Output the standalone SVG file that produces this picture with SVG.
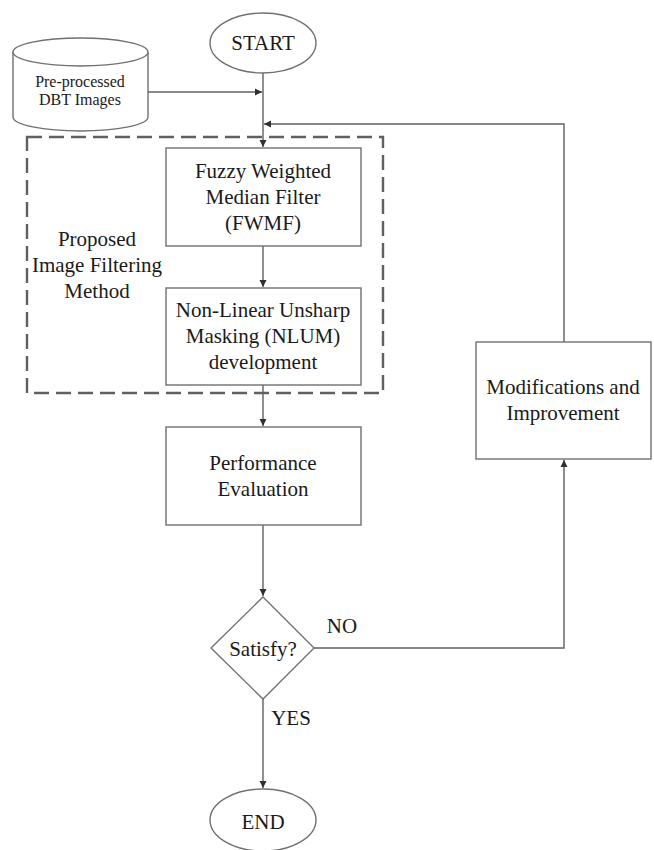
<svg xmlns="http://www.w3.org/2000/svg" width="654" height="850" viewBox="0 0 654 850" font-family="'Liberation Serif', 'Times New Roman', 'DejaVu Serif', serif">
<style>
text{font-family:'Liberation Serif','Times New Roman','DejaVu Serif',serif;fill:#1a1a1a;text-anchor:middle}
.t{font-size:21px}
.s{font-size:16px}
.box{fill:#fff;stroke:#707070;stroke-width:1.4}
.ln{fill:none;stroke:#606060;stroke-width:1.4}
.dash{fill:none;stroke:#606060;stroke-width:2.4;stroke-dasharray:15 7}
</style>
<defs>
<marker id="ah" markerWidth="8" markerHeight="8" refX="7" refY="4" orient="auto" markerUnits="userSpaceOnUse">
<path d="M0,0.5 L7,4 L0,7.5 Z" fill="#303030"/>
</marker>
</defs>
<rect width="654" height="850" fill="#fff"/>
<g id="connectors">
<path class="ln" d="M263,73 V147" marker-end="url(#ah)"/>
<path class="ln" d="M148,92 H262" marker-end="url(#ah)"/>
<path class="ln" d="M564,342 V124 H264" marker-end="url(#ah)"/>
<path class="ln" d="M263,246 V287" marker-end="url(#ah)"/>
<path class="ln" d="M263,385 V426" marker-end="url(#ah)"/>
<path class="ln" d="M263,525 V596" marker-end="url(#ah)"/>
<path class="ln" d="M314,648 H564 V460" marker-end="url(#ah)"/>
<path class="ln" d="M263,699 V788" marker-end="url(#ah)"/>
<text class="t" x="342" y="633">NO</text>
<text class="t" x="291" y="725">YES</text>
</g>
<g id="group-proposed">
<rect class="dash" x="27" y="137" width="356" height="256"/>
<text class="t" x="97" y="246">Proposed</text>
<text class="t" x="97" y="272">Image Filtering</text>
<text class="t" x="97" y="298">Method</text>
</g>
<g id="start">
<ellipse class="box" cx="263" cy="43" rx="53" ry="30"/>
<text class="t" x="263" y="50">START</text>
</g>
<g id="dbt">
<path class="box" d="M13,52 V117 A67.5,14 0 0 0 148,117 V52"/>
<ellipse class="box" cx="80.5" cy="52" rx="67.5" ry="14"/>
<text class="s" x="80" y="87">Pre-processed</text>
<text class="s" x="80" y="105">DBT Images</text>
</g>
<g id="fwmf">
<rect class="box" x="166" y="148" width="195" height="98"/>
<text class="t" x="263" y="178">Fuzzy Weighted</text>
<text class="t" x="263" y="204">Median Filter</text>
<text class="t" x="263" y="230">(FWMF)</text>
</g>
<g id="nlum">
<rect class="box" x="166" y="288" width="195" height="97"/>
<text class="t" x="263" y="317">Non-Linear Unsharp</text>
<text class="t" x="263" y="343">Masking (NLUM)</text>
<text class="t" x="263" y="369">development</text>
</g>
<g id="perf">
<rect class="box" x="166" y="427" width="195" height="98"/>
<text class="t" x="263" y="470">Performance</text>
<text class="t" x="263" y="496">Evaluation</text>
</g>
<g id="modify">
<rect class="box" x="476" y="342" width="175" height="117"/>
<text class="t" x="563" y="394">Modifications and</text>
<text class="t" x="563" y="420">Improvement</text>
</g>
<g id="satisfy">
<polygon class="box" points="263,597 314,648 263,699 211,648"/>
<text class="t" x="263" y="656">Satisfy?</text>
</g>
<g id="end">
<ellipse class="box" cx="263" cy="820" rx="53" ry="31"/>
<text class="t" x="263" y="829">END</text>
</g>
</svg>
